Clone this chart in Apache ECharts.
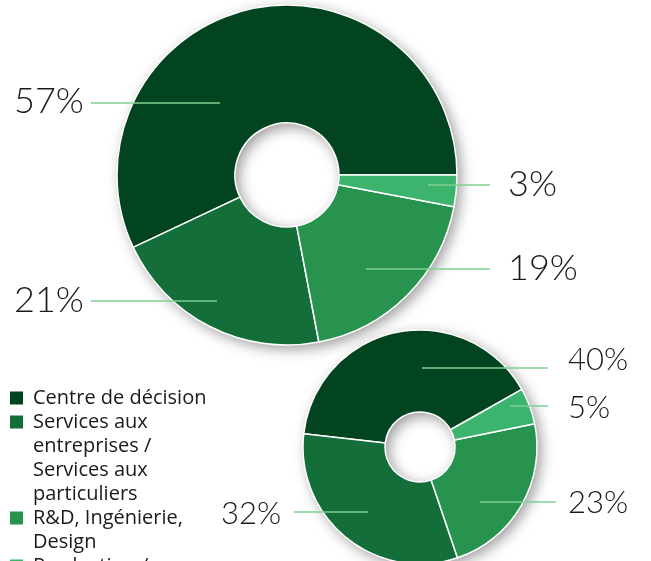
<!DOCTYPE html>
<html>
<head>
<meta charset="utf-8">
<script src="https://cdn.jsdelivr.net/npm/echarts@6/dist/echarts.min.js"></script>
<style>
    html, body { margin: 0; padding: 0; background: #fff; }
    #chart { width: 651px; height: 561px; }
</style>
</head>
<body>
<div id="chart"></div>
<script>
    // categories (legend order) and shares for the two rings
    var categories = ['Centre de décision', 'Services aux\nentreprises /\nServices aux\nparticuliers', 'R&D, Ingénierie,\nDesign', 'Production /'];
    var colors = ['#034420', '#136e3a', '#27934f', '#3cb46e'];
    var bigValues = [57, 21, 19, 3];
    var smallValues = [40, 32, 23, 5];

    // where each label and its leader line sit (layout only)
    var bigLabels = [
        {x: 14, y: 101, line: [[220, 103], [91, 103]]},
        {x: 14, y: 300, line: [[217, 301], [91, 301]]},
        {x: 508, y: 268, line: [[366, 269], [490, 269]]},
        {x: 508, y: 184, line: [[428, 185], [490, 185]]}
    ];
    var smallLabels = [
        {x: 568, y: 360, line: [[422, 368], [548, 368]]},
        {x: 221, y: 514, line: [[368, 512], [294, 512]]},
        {x: 568, y: 503, line: [[480, 502], [556, 502]]},
        {x: 568, y: 408, line: [[510, 406], [548, 406]]}
    ];

    var chart = echarts.init(document.getElementById('chart'));

    function toData(values) {
        return values.map(function (v, i) {
            return {name: categories[i], value: v, itemStyle: {color: colors[i]}};
        });
    }

    function layoutFor(list) {
        return function (params) {
            var p = list[params.dataIndex];
            return {
                x: p.x,
                y: p.y,
                align: 'left',
                verticalAlign: 'middle',
                labelLinePoints: p.line
            };
        };
    }

    // coloured slices
    function ringSeries(values, center, radius, startAngle) {
        return {
            type: 'pie',
            center: center,
            radius: radius,
            startAngle: startAngle,
            clockwise: false,
            silent: true,
            z: 2,
            itemStyle: {borderColor: '#fff', borderWidth: 1.5},
            label: {show: false},
            labelLine: {show: false},
            data: toData(values)
        };
    }

    // same ring, transparent, only to put labels and leader lines on top
    function labelSeries(values, center, radius, startAngle, labels, fontSize) {
        return {
            type: 'pie',
            center: center,
            radius: radius,
            startAngle: startAngle,
            clockwise: false,
            avoidLabelOverlap: false,
            silent: true,
            z: 3,
            itemStyle: {color: 'rgba(0,0,0,0)', borderWidth: 0},
            label: {
                show: true,
                position: 'outside',
                formatter: '{c}%',
                fontFamily: 'Lato',
                fontWeight: 300,
                fontSize: fontSize,
                color: '#1a1a1a'
            },
            labelLine: {
                show: true,
                lineStyle: {color: '#7fcf92', width: 1.5}
            },
            labelLayout: layoutFor(labels),
            data: values.map(function (v, i) { return {name: categories[i], value: v}; })
        };
    }

    function shadowSeries(center, radius) {
        return {
            type: 'pie',
            center: center,
            radius: radius,
            silent: true,
            z: 1,
            label: {show: false},
            labelLine: {show: false},
            itemStyle: {
                color: '#fff',
                shadowBlur: 14,
                shadowColor: 'rgba(0,0,0,0.4)',
                shadowOffsetX: 4,
                shadowOffsetY: 4
            },
            data: [{name: 'shadow', value: 1}]
        };
    }

    // one legend per item so the square sits on the first text line
    var lineHeight = 24;
    var legendTops = [386, 410, 506, 554];
    var legends = categories.map(function (name, i) {
        var n = name.split('\n').length;
        var h = n * lineHeight;
        var icon = 'path://M0,5.5h13v13h-13z' +
            'M0,0h0.01v0.01h-0.01z' +
            'M17.99,' + (h - 0.01) + 'h0.01v0.01h-0.01z';
        return {
            orient: 'vertical',
            left: 10,
            top: legendTops[i],
            padding: 0,
            itemWidth: 18,
            itemHeight: h,
            selectedMode: false,
            itemStyle: {borderWidth: 0},
            textStyle: {
                fontFamily: 'Open Sans',
                fontSize: 20,
                lineHeight: lineHeight,
                color: '#1a1a1a'
            },
            data: [{name: name, icon: icon}]
        };
    });

    chart.setOption({
        animation: false,
        legend: legends,
        series: [
            shadowSeries([287, 175], [52, 170]),
            ringSeries(bigValues, [287, 175], [52, 170], 0),
            shadowSeries([420, 447], [35, 117]),
            ringSeries(smallValues, [420, 447], [35, 117], 29.5),
            labelSeries(bigValues, [287, 175], [52, 170], 0, bigLabels, 36),
            labelSeries(smallValues, [420, 447], [35, 117], 29.5, smallLabels, 31)
        ]
    });
</script>
</body>
</html>
